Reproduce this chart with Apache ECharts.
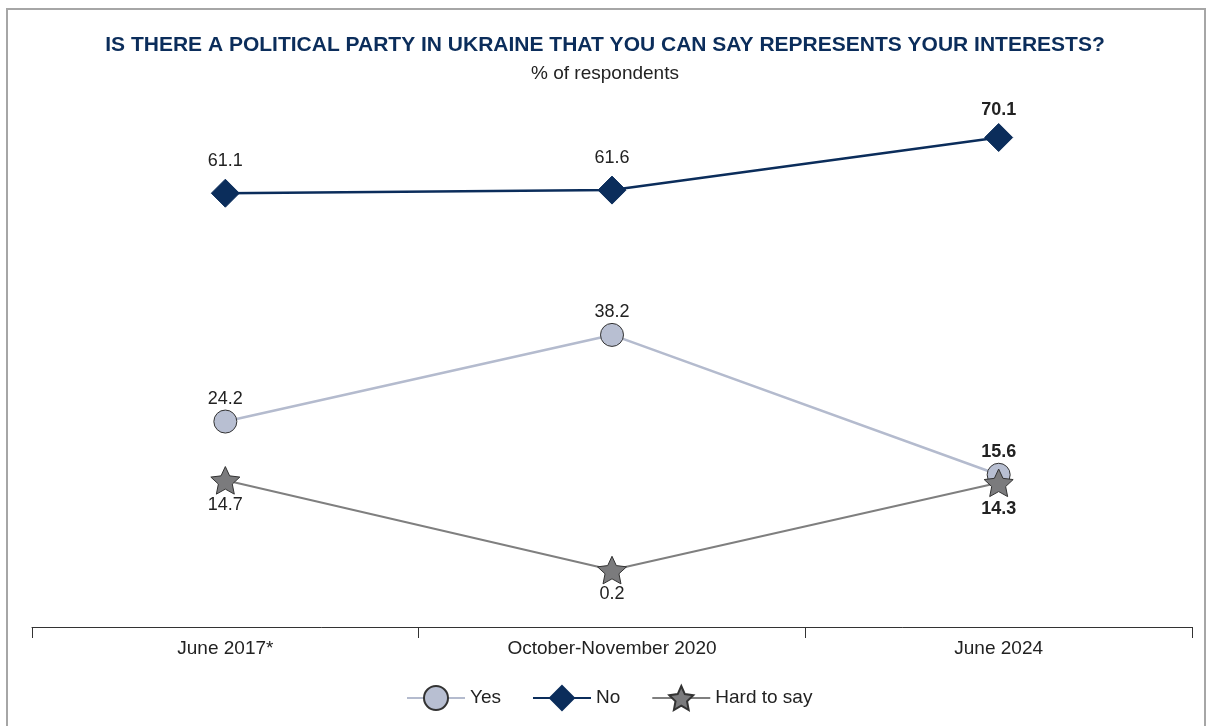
<!DOCTYPE html>
<html>
<head>
<meta charset="utf-8">
<script src="https://cdn.jsdelivr.net/npm/echarts@6/dist/echarts.min.js"></script>
<style>
  html, body { margin: 0; padding: 0; background: #fff; }
  #chart { width: 1210px; height: 726px; }
</style>
</head>
<body>
<div id="chart"></div>
<script>
// Survey waves
const categories = ['June 2017*', 'October-November 2020', 'June 2024'];

// Shares of respondents, %
const yesValues = [24.2, 38.2, 15.6];
const noValues = [61.1, 61.6, 70.1];
const hardToSayValues = [14.7, 0.2, 14.3];

const seriesNames = ['Yes', 'No', 'Hard to say'];

const FONT = '"Liberation Sans", Arial, sans-serif';
const NAVY = '#0b2d5b';

// Five-point star used for the "Hard to say" markers
const STAR = 'path://M50,0 L64.11,30.58 L97.55,34.55 L72.83,57.42 L79.39,90.45 L50,74 L20.61,90.45 L27.17,57.42 L2.45,34.55 L35.89,30.58 Z';

// Latest wave values are shown in bold
function withBoldLast(values, extra) {
  return values.map((v, i) => i === values.length - 1
    ? { value: v, label: Object.assign({ fontWeight: 'bold' }, extra || {}) }
    : v);
}

const chart = echarts.init(document.getElementById('chart'), null, { renderer: 'canvas' });

chart.setOption({
  animation: false,
  backgroundColor: '#fff',
  textStyle: { fontFamily: FONT },
  title: {
    left: 'center',
    top: 30,
    text: 'IS THERE A POLITICAL PARTY IN UKRAINE THAT YOU CAN SAY REPRESENTS YOUR INTERESTS?',
    subtext: '% of respondents',
    itemGap: 8,
    textStyle: { fontFamily: FONT, fontSize: 21, fontWeight: 'bold', color: NAVY },
    subtextStyle: { fontFamily: FONT, fontSize: 19, color: '#222' }
  },
  graphic: [{
    type: 'rect',
    shape: { x: 7, y: 9, width: 1198, height: 740 },
    style: { fill: 'none', stroke: '#a6a6a6', lineWidth: 2 },
    silent: true
  }],
  legend: {
    bottom: 10,
    left: 401,
    itemWidth: 58,
    itemHeight: 30,
    itemGap: 31,
    textStyle: { fontFamily: FONT, fontSize: 19, color: '#222' },
    data: seriesNames
  },
  grid: { left: 32, right: 18, top: 101, bottom: 99 },
  xAxis: {
    type: 'category',
    data: categories,
    boundaryGap: true,
    axisLine: { onZero: false, lineStyle: { color: '#333', width: 1 } },
    axisTick: { show: true, length: 11, lineStyle: { color: '#333' } },
    axisLabel: { fontFamily: FONT, fontSize: 19, color: '#222', margin: 12 }
  },
  yAxis: {
    type: 'value',
    min: -9,
    max: 76,
    show: false,
    splitLine: { show: false }
  },
  series: [
    {
      name: 'Yes',
      type: 'line',
      data: withBoldLast(yesValues),
      symbol: 'circle',
      symbolSize: 23,
      lineStyle: { color: '#b4bbce', width: 2.5 },
      itemStyle: { color: '#b8bfd2', borderColor: '#333', borderWidth: 1 },
      label: { show: true, position: 'top', distance: 2, fontFamily: FONT, fontSize: 18, color: '#222' }
    },
    {
      name: 'No',
      type: 'line',
      data: withBoldLast(noValues, { distance: 4 }),
      symbol: 'diamond',
      symbolSize: 28,
      lineStyle: { color: NAVY, width: 2.5 },
      itemStyle: { color: NAVY, borderColor: NAVY, borderWidth: 1 },
      label: { show: true, position: 'top', distance: 9, fontFamily: FONT, fontSize: 18, color: '#222' }
    },
    {
      name: 'Hard to say',
      type: 'line',
      data: withBoldLast(hardToSayValues, { distance: 3 }),
      symbol: STAR,
      symbolKeepAspect: true,
      symbolSize: 29,
      lineStyle: { color: '#7f7f7f', width: 2 },
      itemStyle: { color: '#7b7b7d', borderColor: '#333', borderWidth: 1 },
      label: { show: true, position: 'bottom', distance: 1, fontFamily: FONT, fontSize: 18, color: '#222' }
    }
  ]
});
</script>
</body>
</html>
